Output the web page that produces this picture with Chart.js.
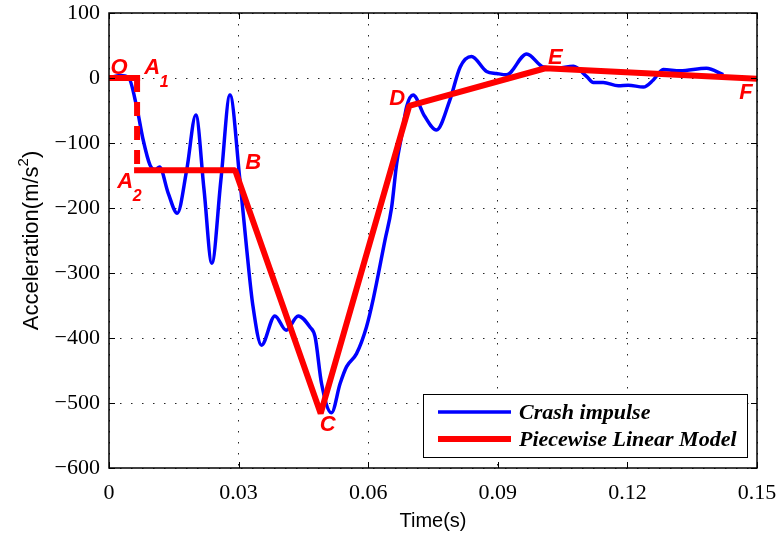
<!DOCTYPE html>
<html>
<head>
<meta charset="utf-8">
<script src="https://cdn.jsdelivr.net/npm/chart.js@4.4.1/dist/chart.umd.min.js"></script>
<style>
	html, body { margin: 0; padding: 0; background: #fff; }
	#wrap { width: 781px; height: 533px; position: relative; }
</style>
</head>
<body>
<div id="wrap"><canvas id="crash-chart"></canvas></div>
<script>
// 衝突加速度波形 (時間 s / 加速度 m/s^2)、図から読み取った値
const crashTime = [
	0, 0.0025, 0.0045, 0.0064, 0.0079, 0.0095, 0.0107, 0.0117, 0.0137, 0.0158,
	0.0180, 0.0201, 0.0220, 0.0238, 0.0259, 0.0280, 0.0303, 0.0319, 0.0333, 0.0353,
	0.0384, 0.0410, 0.0438, 0.0465, 0.0477, 0.0492, 0.0515, 0.0535, 0.0550, 0.0573,
	0.0596, 0.0612, 0.0639, 0.0654, 0.0666, 0.0677, 0.0689, 0.0704, 0.0730, 0.0758,
	0.0789, 0.0813, 0.0839, 0.0874, 0.0897, 0.0920, 0.0967, 0.1005, 0.1036, 0.1075,
	0.1106, 0.1121, 0.1144, 0.1179, 0.1202, 0.1237, 0.1260, 0.1283, 0.1322, 0.1383,
	0.1422,
];
const crashAccel = [
	0, 4, 1, -44, -95, -134, -141, -137, -177, -208,
	-141, -57, -172, -285, -157, -26, -157, -265, -350, -411,
	-366, -388, -366, -383, -398, -470, -515, -470, -444, -424,
	-383, -339, -249, -200, -131, -90, -44, -26, -58, -80,
	-34, 17, 33, 10, 7, 5, 37, 17, 15, 18,
	2, -7, -7, -12, -11, -14, -3, 13, 11, 15,
	5,
];

// 区分線形モデルの折れ点 (A1→A2 は破線)
const modelNames = ["O", "A1", "A2", "B", "C", "D", "E", "F"];
const modelTime = [0, 0.0065, 0.0065, 0.0292, 0.049, 0.0695, 0.101, 0.15];
const modelAccel = [0, 0, -142, -142, -516, -43, 15, -1];

const xTicks = [0, 0.03, 0.06, 0.09, 0.12, 0.15];
const yTicks = [100, 0, -100, -200, -300, -400, -500, -600];

const seriesLabels = ["Crash impulse", "Piecewise Linear Model"];
const xTitle = "Time(s)";
const yTitle = "Acceleration(m/s";

const SERIF = "'Liberation Serif', 'Times New Roman', serif";
const SANS = "'Liberation Sans', Arial, sans-serif";

// 折れ点ラベルの位置 (点からのピクセルずれ)
const labelOffsets = {
	O: [10, -12],
	A1: [15, -12],
	A2: [-12, 10],
	B: [18, -9],
	C: [7, 10],
	D: [-12, -9],
	E: [10, -12],
	F: [-11, 12],
};

const annotatePlugin = {
	id: "annotate",
	afterDatasetsDraw(chart) {
		const { ctx, chartArea: a, scales } = chart;
		const xs = scales.x;
		const ys = scales.y;

		// 折れ点ラベル
		ctx.save();
		ctx.fillStyle = "#ff0000";
		ctx.textAlign = "center";
		ctx.textBaseline = "alphabetic";
		modelNames.forEach((name, i) => {
			const px = xs.getPixelForValue(modelTime[i]);
			const py = ys.getPixelForValue(modelAccel[i]);
			const [dx, dy] = labelOffsets[name];
			const cx = px + dx;
			const cy = py + dy;
			ctx.font = `italic bold 22px ${SANS}`;
			ctx.fillText(name[0], cx, cy + 8);
			if (name.length > 1) {
				ctx.font = `italic bold 16px ${SANS}`;
				ctx.fillText(name.slice(1), cx + 12, cy + 21);
			}
		});
		ctx.restore();

		// 枠と内向きの目盛り
		ctx.save();
		ctx.strokeStyle = "#000";
		ctx.lineWidth = 1.5;
		ctx.strokeRect(a.left, a.top, a.right - a.left, a.bottom - a.top);
		ctx.lineWidth = 1;
		ctx.beginPath();
		xTicks.forEach((v) => {
			const x = Math.round(xs.getPixelForValue(v)) + 0.5;
			ctx.moveTo(x, a.bottom);
			ctx.lineTo(x, a.bottom - 6);
			ctx.moveTo(x, a.top);
			ctx.lineTo(x, a.top + 6);
		});
		yTicks.forEach((v) => {
			const y = Math.round(ys.getPixelForValue(v)) + 0.5;
			ctx.moveTo(a.left, y);
			ctx.lineTo(a.left + 6, y);
			ctx.moveTo(a.right, y);
			ctx.lineTo(a.right - 6, y);
		});
		ctx.stroke();
		ctx.restore();

		// 凡例
		const ds = chart.data.datasets.filter((d) => d.label);
		const bw = 324;
		const bh = 63;
		const bx = a.right - 10 - bw;
		const by = a.bottom - 11 - bh;
		ctx.save();
		ctx.fillStyle = "#fff";
		ctx.fillRect(bx, by, bw, bh);
		ctx.strokeStyle = "#000";
		ctx.lineWidth = 1;
		ctx.strokeRect(bx + 0.5, by + 0.5, bw, bh);
		ctx.font = `italic bold 22px ${SERIF}`;
		ctx.fillStyle = "#000";
		ctx.textAlign = "left";
		ctx.textBaseline = "alphabetic";
		ds.forEach((d, i) => {
			const rowY = by + 18 + i * 27;
			ctx.strokeStyle = d.borderColor;
			ctx.lineWidth = d.borderWidth;
			ctx.beginPath();
			ctx.moveTo(bx + 15, rowY);
			ctx.lineTo(bx + 88, rowY);
			ctx.stroke();
			ctx.fillText(d.label, bx + 96, rowY + 7);
		});
		ctx.restore();

		// 軸タイトル
		ctx.save();
		ctx.fillStyle = "#000";
		ctx.font = `20px ${SANS}`;
		ctx.textAlign = "center";
		ctx.textBaseline = "alphabetic";
		ctx.fillText(xTitle, (a.left + a.right) / 2, 527);

		ctx.translate(38, (a.top + a.bottom) / 2);
		ctx.rotate(-Math.PI / 2);
		ctx.textAlign = "left";
		ctx.font = `22px ${SANS}`;
		const mainW = ctx.measureText(yTitle).width;
		const closeW = ctx.measureText(")").width;
		ctx.font = `15px ${SANS}`;
		const supW = ctx.measureText("2").width;
		let x0 = -(mainW + supW + closeW) / 2;
		ctx.font = `22px ${SANS}`;
		ctx.fillText(yTitle, x0, 0);
		x0 += mainW;
		ctx.font = `15px ${SANS}`;
		ctx.fillText("2", x0, -10);
		x0 += supW;
		ctx.font = `22px ${SANS}`;
		ctx.fillText(")", x0, 0);
		ctx.restore();
	},
};

const crashData = crashTime.map((t, i) => ({ x: t, y: crashAccel[i] }));
// 実線部分: A1 と A2 の間を切る
const modelSolid = [];
const modelDashed = [];
modelTime.forEach((t, i) => {
	if (i > 0 && t === modelTime[i - 1]) {
		modelSolid.push({ x: t, y: null });
		modelDashed.push({ x: modelTime[i - 1], y: modelAccel[i - 1] }, { x: t, y: modelAccel[i] });
	}
	modelSolid.push({ x: t, y: modelAccel[i] });
});

const axisCommon = {
	type: "linear",
	grid: {
		color: "rgba(0,0,0,0.85)",
		lineWidth: 1,
		drawTicks: false,
	},
	border: { display: false, dash: [1.5, 9.5] },
};

new Chart(document.getElementById("crash-chart"), {
	type: "line",
	data: {
		datasets: [
			{
				label: seriesLabels[0],
				data: crashData,
				borderColor: "#0000ff",
				borderWidth: 3.5,
				pointRadius: 0,
				cubicInterpolationMode: "monotone",
				order: 1,
			},
			{
				label: seriesLabels[1],
				data: modelSolid,
				borderColor: "#ff0000",
				borderWidth: 6,
				pointRadius: 0,
				tension: 0,
				spanGaps: false,
				borderJoinStyle: "bevel",
				borderCapStyle: "square",
				order: 0,
			},
			{
				label: "",
				data: modelDashed,
				borderColor: "#ff0000",
				borderWidth: 6,
				pointRadius: 0,
				tension: 0,
				borderDash: [14, 10],
				borderCapStyle: "butt",
				order: 0,
			},
		],
	},
	options: {
		responsive: true,
		maintainAspectRatio: false,
		animation: false,
		layout: { padding: { left: 0, right: 24, top: 13, bottom: 0 } },
		plugins: {
			legend: { display: false },
			tooltip: { enabled: false },
		},
		scales: {
			x: {
				...axisCommon,
				min: 0,
				max: 0.15,
				afterBuildTicks: (scale) => {
					scale.ticks = xTicks.map((v) => ({ value: v }));
				},
				afterFit: (scale) => {
					scale.height = 65;
					scale.paddingLeft = 0;
					scale.paddingRight = 0;
				},
				ticks: {
					color: "#000",
					font: { family: SERIF, size: 22 },
					padding: 12,
					maxRotation: 0,
					autoSkip: false,
					callback: (v) => (v === 0 ? "0" : v.toFixed(2)),
				},
			},
			y: {
				...axisCommon,
				min: -600,
				max: 100,
				afterBuildTicks: (scale) => {
					scale.ticks = yTicks.map((v) => ({ value: v }));
				},
				afterFit: (scale) => {
					scale.width = 109;
					scale.paddingTop = 0;
					scale.paddingBottom = 0;
				},
				ticks: {
					color: "#000",
					font: { family: SERIF, size: 22 },
					padding: 9,
					autoSkip: false,
					callback: (v) => (v < 0 ? "\u2212" + Math.abs(v) : String(v)),
				},
			},
		},
	},
	plugins: [annotatePlugin],
});
</script>
</body>
</html>
